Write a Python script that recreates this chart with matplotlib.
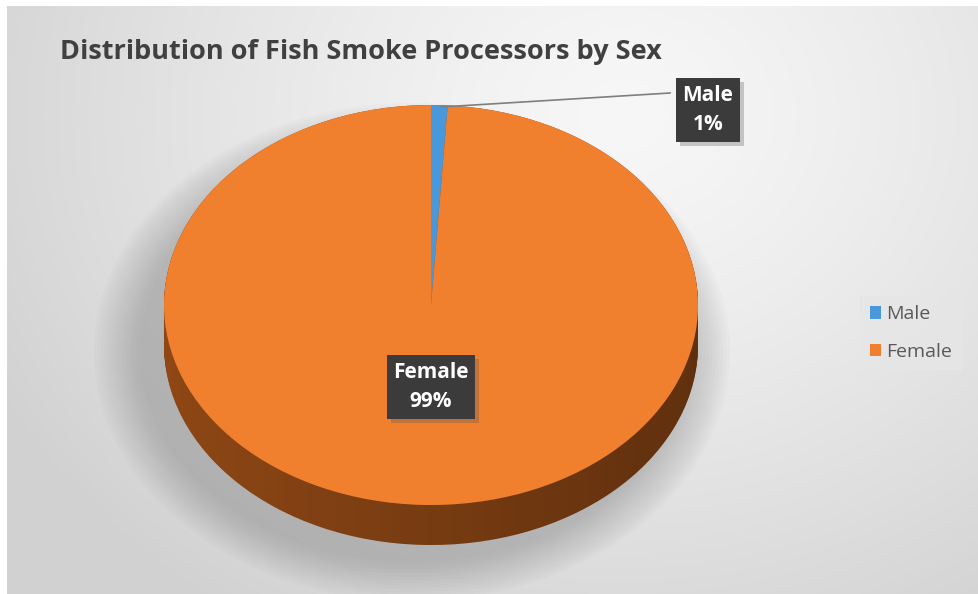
import numpy as np
import matplotlib.pyplot as plt
from matplotlib.patches import Ellipse, Polygon

# data
labels = ['Male', 'Female']
shares = [1, 99]
top_colors = ['#4a98dc', '#f07f2e']
side_colors = ['#2a5f8e', '#8e4715']

title = 'Distribution of Fish Smoke Processors by Sex'

W, H = 979, 594


def main():
    fig = plt.figure(figsize=(W / 100, H / 100), dpi=100)
    fig.patch.set_facecolor('white')

    # background with a soft radial gradient
    bg = fig.add_axes([0, 0, 1, 1])
    bg.set_xlim(0, W)
    bg.set_ylim(H, 0)
    bg.axis('off')
    yy, xx = np.mgrid[0:H, 0:W]
    d = np.sqrt(((xx - 620) / 1.0) ** 2 + ((yy - 110) / 0.85) ** 2)
    g = 247 - 38 * np.clip(d / 720, 0, 1) ** 1.3
    img = np.dstack([g, g, g]) / 255
    bg.imshow(img, extent=(7, W, H, 6), aspect='auto', zorder=0)

    # soft shadow under the pie
    for k in range(14):
        e = Ellipse((412, 352), 545 + 7 * k, 420 + 6 * k,
                    color='#808080', alpha=0.037, lw=0, zorder=1)
        bg.add_patch(e)

    # pie axes: top surface spans x 164..698, y 105..505, side thickness 40px
    cx, rx = 431, 267
    ry = 200
    thick = 40
    left = (cx - rx) / W
    width = 2 * rx / W
    bottom = (H - (105 + 2 * ry + thick)) / H
    height = (2 * ry + thick) / H
    ax = fig.add_axes([left, bottom, width, height])
    depth = thick / ry

    # side of the pie: stack of shifted pies
    n = 40
    for i in range(n):
        off = depth * (1 - i / (n - 1))
        ax.pie(shares, colors=side_colors, startangle=90, counterclock=False,
               center=(0, -off), radius=1, wedgeprops=dict(lw=0))
    # darkening gradient across the side
    t = np.linspace(np.pi, 2 * np.pi, 200)
    upper = np.column_stack([np.cos(t), np.sin(t)])
    lower = np.column_stack([np.cos(t[::-1]), np.sin(t[::-1]) - depth])
    side = Polygon(np.vstack([upper, lower]), closed=True, facecolor='none',
                   edgecolor='none', transform=ax.transData)
    ax.add_patch(side)
    grad = np.linspace(0, 1, 256)[None, :]
    shade = np.zeros((1, 256, 4))
    shade[..., 3] = 0.32 * grad
    im = ax.imshow(shade, extent=(-1, 1, -1 - depth, 0), aspect='auto',
                   zorder=3)
    im.set_clip_path(side)

    wedges, _ = ax.pie(shares, colors=top_colors, startangle=90,
                       counterclock=False, center=(0, 0), radius=1,
                       wedgeprops=dict(lw=0))
    for w in wedges:
        w.set_zorder(4)
    ax.set_aspect('auto')
    ax.set_xlim(-1, 1)
    ax.set_ylim(-1 - depth, 1)
    ax.axis('off')

    # overlay for title and labels
    top = fig.add_axes([0, 0, 1, 1])
    top.set_xlim(0, W)
    top.set_ylim(H, 0)
    top.axis('off')
    top.patch.set_alpha(0)

    top.text(60, 52, title, fontsize=19.5, fontweight='bold', color='#404040',
             family='Open Sans', va='center', ha='left')

    # data labels
    txt = '%s\n%d%%'
    top.plot([670, 441], [93, 107], color='#7f7f7f', lw=1.2)
    for (x, y), lab, v in zip([(708, 110), (431, 387)], labels, shares):
        top.text(x + 4, y + 4, txt % (lab, v), fontsize=15, fontweight='bold',
                 color='#8a8a8a', family='Open Sans', ha='center', va='center',
                 linespacing=1.55, alpha=0.0,
                 bbox=dict(boxstyle='square,pad=0.3', fc='#555555', ec='none',
                           alpha=0.3))
        top.text(x, y, txt % (lab, v), fontsize=15, fontweight='bold',
                 color='white', family='Open Sans', ha='center', va='center',
                 linespacing=1.55,
                 bbox=dict(boxstyle='square,pad=0.3', fc='#3b3b3b', ec='none'))

    # legend
    handles = [plt.Rectangle((0, 0), 1, 1, fc=c, ec='none') for c in top_colors]
    leg = fig.legend(handles, labels, loc='center left',
                     bbox_to_anchor=(860 / W, 1 - 333 / H), frameon=True,
                     handlelength=0.6, handleheight=0.6, handletextpad=0.25,
                     labelspacing=1.0, prop=dict(family='Open Sans', size=14),
                     labelcolor='#595959', borderpad=0.5, borderaxespad=0)
    leg.get_frame().set_facecolor('#e6e6e6')
    leg.get_frame().set_edgecolor('none')
    leg.get_frame().set_alpha(0.8)
    leg.get_frame().set_boxstyle('square', pad=0)

    fig.savefig('out.png', dpi=100)


if __name__ == '__main__':
    main()
